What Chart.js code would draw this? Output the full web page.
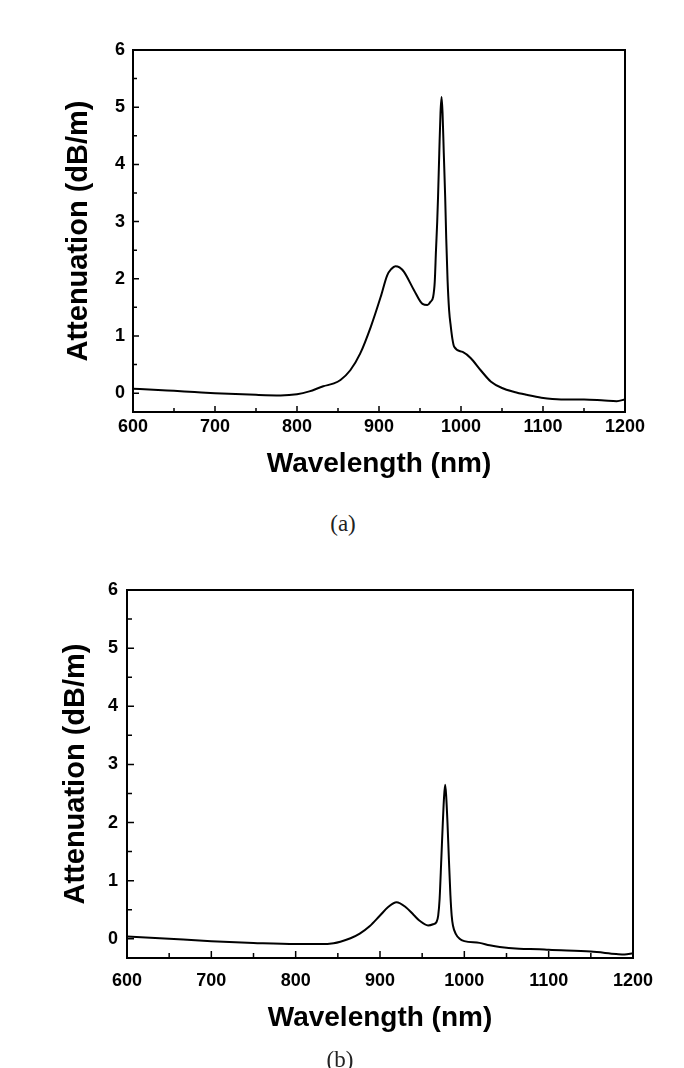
<!DOCTYPE html>
<html>
<head>
<meta charset="utf-8">
<script src="https://cdn.jsdelivr.net/npm/chart.js@4/dist/chart.umd.min.js"></script>
<style>
  body { margin: 0; background: #fff; }
  #page { position: relative; width: 684px; height: 1068px; overflow: hidden; background: #fff; }
  .cv { position: absolute; left: 0; }
  .cap { position: absolute; font-family: "Liberation Serif", "DejaVu Serif", serif; font-size: 23px; color: #222; transform: translate(-50%, -50%); }
</style>
</head>
<body>
<div id="page">
  <canvas id="chartA" class="cv" style="top:0px" width="684" height="500"></canvas>
  <div class="cap" style="left:343px; top:524px">(a)</div>
  <canvas id="chartB" class="cv" style="top:540px" width="684" height="528"></canvas>
  <div class="cap" style="left:340px; top:1060px">(b)</div>
</div>
<script>
// ---- data ----
var xTicks = [600, 700, 800, 900, 1000, 1100, 1200];
var yTicks = [0, 1, 2, 3, 4, 5, 6];

// (a) wavelength (nm) / attenuation (dB/m)
var wlA = [600, 625, 650, 675, 700, 725, 750, 780, 800, 815, 832, 845, 853, 865, 877, 890, 902, 910, 915, 920, 925, 930.5,
  942.7, 953, 959, 963, 966, 968, 969.5, 971, 972, 973.5, 975, 976.3, 977.5, 979, 980.7, 982, 983.6, 985.5, 987.6,
  989.5, 991.7, 1002, 1012, 1024, 1036.6, 1050, 1065, 1080, 1098, 1122, 1150, 1175, 1190, 1200];
var attA = [0.075, 0.06, 0.04, 0.02, 0.0, -0.015, -0.03, -0.04, -0.02, 0.03, 0.12, 0.17, 0.23, 0.40, 0.69, 1.16, 1.68, 2.06, 2.17, 2.22, 2.2, 2.12,
  1.8, 1.56, 1.54, 1.6, 1.68, 1.95, 2.5, 3.0, 3.43, 4.2, 4.9, 5.18, 4.9, 4.2, 3.43, 2.7, 1.98, 1.45, 1.16,
  0.95, 0.81, 0.72, 0.61, 0.40, 0.20, 0.09, 0.02, -0.03, -0.08, -0.11, -0.11, -0.13, -0.14, -0.11];

// (b)
var wlB = [600, 650, 700, 750, 800, 830, 845, 853, 865, 876, 888, 900, 910, 919.5, 931, 940, 947, 957, 963, 967, 969,
  970.7, 972.7, 974.5, 976, 977.3, 978.5, 980, 981.7, 983.5, 985, 986.5, 990, 994.4, 1000, 1018, 1030, 1042, 1065,
  1089, 1100, 1150, 1180, 1190, 1200];
var attB = [0.04, 0.0, -0.04, -0.07, -0.09, -0.09, -0.075, -0.05, 0.01, 0.09, 0.22, 0.40, 0.55, 0.63, 0.54, 0.41, 0.31, 0.23, 0.25, 0.29, 0.4,
  0.69, 1.37, 2.0, 2.45, 2.65, 2.45, 2.0, 1.37, 0.75, 0.4, 0.23, 0.08, 0.0, -0.04, -0.07, -0.11, -0.14, -0.17,
  -0.18, -0.19, -0.22, -0.26, -0.27, -0.25];

var xTitle = 'Wavelength (nm)';
var yTitle = 'Attenuation (dB/m)';

// frame + inward ticks
var frameTicks = {
  id: 'frameTicks',
  afterDraw: function(chart, args, opts) {
    var ctx = chart.ctx, a = chart.chartArea;
    var xs = chart.scales.x, ys = chart.scales.y;
    ctx.save();
    ctx.strokeStyle = '#000';
    ctx.lineWidth = 1.5;
    ctx.beginPath();
    for (var v = 600; v <= 1200; v += 50) {
      var px = xs.getPixelForValue(v);
      var len = (v % 100 === 0) ? opts.major : opts.minor;
      ctx.moveTo(px, a.bottom);
      ctx.lineTo(px, a.bottom - len);
    }
    for (var w = 0; w <= 6; w += 0.5) {
      var py = ys.getPixelForValue(w);
      var l2 = Number.isInteger(w) ? opts.major : opts.minor;
      ctx.moveTo(a.left, py);
      ctx.lineTo(a.left + l2, py);
    }
    ctx.stroke();
    ctx.lineWidth = 2;
    ctx.strokeRect(a.left, a.top, a.right - a.left, a.bottom - a.top);
    ctx.restore();
  }
};

function makeChart(id, wl, att, cfg) {
  var pts = wl.map(function(v, i) { return {x: v, y: att[i]}; });
  var tickFont = {family: 'Liberation Sans', size: 18, weight: 'bold'};
  return new Chart(document.getElementById(id).getContext('2d'), {
    type: 'line',
    data: {
      datasets: [{
        data: pts,
        borderColor: '#000',
        borderWidth: 2,
        pointRadius: 0,
        fill: false,
        cubicInterpolationMode: 'monotone'
      }]
    },
    options: {
      responsive: false,
      animation: false,
      layout: {padding: {top: cfg.top, right: cfg.right, left: 0, bottom: 0}},
      plugins: {
        legend: {display: false},
        tooltip: {enabled: false},
        frameTicks: {major: cfg.major, minor: cfg.minor}
      },
      scales: {
        x: {
          type: 'linear',
          min: 600, max: 1200,
          grid: {display: false, drawTicks: false},
          border: {display: false},
          afterBuildTicks: function(s) { s.ticks = xTicks.map(function(v) { return {value: v}; }); },
          afterFit: function(s) { s.height = cfg.xh; },
          ticks: {font: tickFont, color: '#000', padding: cfg.xpad, maxRotation: 0,
            callback: function(v) { return String(v); }},
          title: {display: true, text: xTitle, color: '#000',
            font: {family: 'Liberation Sans', size: 28, weight: 'bold'},
            padding: {top: 0, bottom: cfg.xtpad}}
        },
        y: {
          min: -0.33, max: 6,
          grid: {display: false, drawTicks: false},
          border: {display: false},
          afterBuildTicks: function(s) { s.ticks = yTicks.map(function(v) { return {value: v}; }); },
          afterFit: function(s) { s.width = cfg.yw; },
          ticks: {font: tickFont, color: '#000', padding: cfg.ypad,
            callback: function(v) { return String(v); }},
          title: {display: true, text: yTitle, color: '#000',
            font: {family: 'Liberation Sans', size: 29, weight: 'bold'},
            padding: {top: cfg.ytpad, bottom: 0}}
        }
      }
    },
    plugins: [frameTicks]
  });
}

makeChart('chartA', wlA, attA, {top: 50, right: 59, xh: 88, yw: 133, xpad: 4, xtpad: 19, ypad: 8, ytpad: 62, major: 6, minor: 4});
makeChart('chartB', wlB, attB, {top: 50, right: 51, xh: 110, yw: 127, xpad: 12, xtpad: 33, ypad: 9, ytpad: 59, major: 7, minor: 5});
</script>
</body>
</html>
